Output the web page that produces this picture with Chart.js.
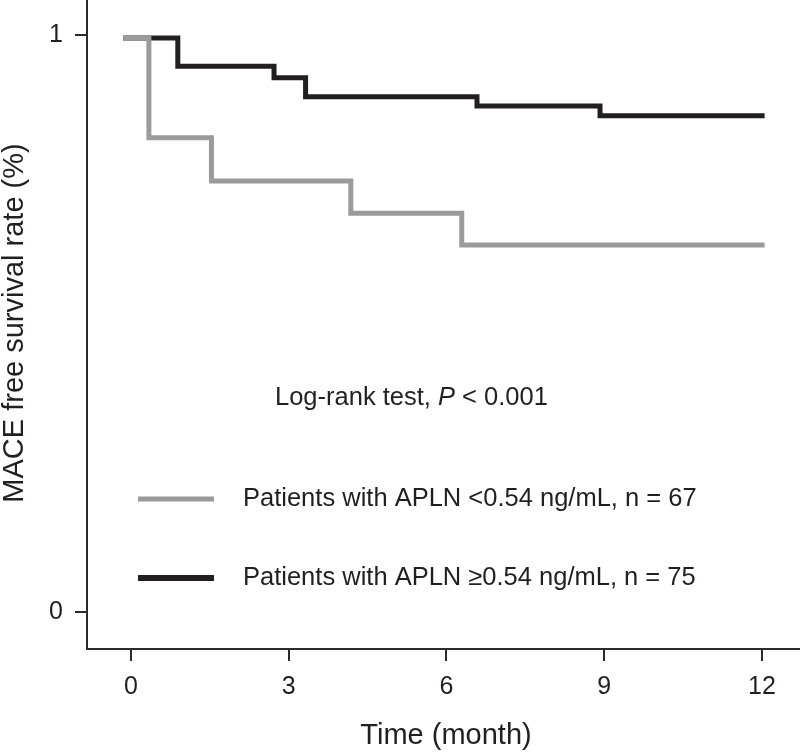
<!DOCTYPE html>
<html>
<head>
<meta charset="utf-8">
<script src="https://cdn.jsdelivr.net/npm/chart.js@4.4.1/dist/chart.umd.min.js"></script>
<style>
  html, body { margin: 0; padding: 0; background: #fff; }
  #wrap { width: 800px; height: 754px; }
</style>
</head>
<body>
<div id="wrap"><canvas id="km" width="800" height="754"></canvas></div>
<script>
// Kaplan-Meier steps (time in months, survival as fraction)
const lowTimes  = [-0.15, 0.34, 1.53, 4.18, 6.29, 12.05];
const lowSurv   = [0.995, 0.822, 0.747, 0.691, 0.636, 0.636];
const highTimes = [-0.15, 0.89, 2.72, 3.32, 6.58, 8.92, 12.05];
const highSurv  = [0.995, 0.946, 0.926, 0.893, 0.877, 0.860, 0.860];

const seriesLabels = [
  'Patients with APLN <0.54 ng/mL, n = 67',
  'Patients with APLN \u22650.54 ng/mL, n = 75'
];
const xTickValues = [0, 3, 6, 9, 12];
const yTickValues = [0, 1];

const FONT = '"Liberation Sans", Arial, Helvetica, sans-serif';
const INK = '#231f20';
const GRAY = '#9b9b9d';

function toPoints(xs, ys) {
  return xs.map((x, i) => ({ x: x, y: ys[i] }));
}

// texts that sit inside / around the plot
const annotate = {
  id: 'annotate',
  afterDraw(chart) {
    const ctx = chart.ctx;
    ctx.save();
    ctx.fillStyle = INK;
    ctx.textBaseline = 'alphabetic';

    // log-rank text, with italic P
    ctx.textAlign = 'left';
    let x = 275;
    ctx.font = '25.5px ' + FONT;
    let part = 'Log-rank test, ';
    ctx.fillText(part, x, 405);
    x += ctx.measureText(part).width;
    ctx.font = 'italic 25.5px ' + FONT;
    ctx.fillText('P', x, 405);
    x += ctx.measureText('P').width;
    ctx.font = '25.5px ' + FONT;
    ctx.fillText(' < 0.001', x, 405);

    // legend
    const rows = [{ y: 499, text: 506, w: 5 }, { y: 578, text: 585, w: 6 }];
    chart.data.datasets.forEach((ds, i) => {
      const r = rows[i];
      ctx.strokeStyle = ds.borderColor;
      ctx.lineWidth = r.w;
      ctx.lineCap = 'butt';
      ctx.beginPath();
      ctx.moveTo(138, r.y);
      ctx.lineTo(214, r.y);
      ctx.stroke();
      ctx.font = '25.5px ' + FONT;
      ctx.fillText(ds.label, 243, r.text);
    });

    // axis titles
    ctx.font = '29px ' + FONT;
    ctx.textAlign = 'center';
    ctx.fillText('Time (month)', 446, 744);
    ctx.translate(23, 323);
    ctx.rotate(-Math.PI / 2);
    ctx.fillText('MACE free survival rate (%)', 0, 0);
    ctx.restore();
  }
};

new Chart(document.getElementById('km'), {
  type: 'line',
  data: {
    datasets: [
      {
        label: seriesLabels[0],
        data: toPoints(lowTimes, lowSurv),
        borderColor: GRAY,
        borderWidth: 5,
        stepped: 'before',
        pointRadius: 0,
        fill: false,
        borderCapStyle: 'butt',
        borderJoinStyle: 'miter'
      },
      {
        label: seriesLabels[1],
        data: toPoints(highTimes, highSurv),
        borderColor: INK,
        borderWidth: 5,
        stepped: 'before',
        pointRadius: 0,
        fill: false,
        borderCapStyle: 'butt',
        borderJoinStyle: 'miter'
      }
    ]
  },
  options: {
    responsive: false,
    devicePixelRatio: 1,
    animation: false,
    layout: { padding: 0 },
    plugins: {
      legend: { display: false },
      tooltip: { enabled: false }
    },
    scales: {
      x: {
        type: 'linear',
        min: -0.837,
        max: 12.723,
        afterBuildTicks: (s) => { s.ticks = xTickValues.map(v => ({ value: v })); },
        afterFit: (s) => { s.height = 105; s.paddingLeft = 0; s.paddingRight = 0; },
        grid: { drawOnChartArea: false, drawTicks: true, tickLength: 12, color: '#2b2b2b', lineWidth: 2 },
        border: { display: true, color: '#2b2b2b', width: 2 },
        ticks: { color: INK, padding: 11, font: { family: FONT, size: 25 }, maxRotation: 0 }
      },
      y: {
        type: 'linear',
        min: -0.0641,
        max: 1.0607,
        afterBuildTicks: (s) => { s.ticks = yTickValues.map(v => ({ value: v })); },
        afterFit: (s) => { s.width = 87; s.paddingTop = 0; s.paddingBottom = 0; },
        grid: { drawOnChartArea: false, drawTicks: true, tickLength: 12, color: '#2b2b2b', lineWidth: 2 },
        border: { display: true, color: '#2b2b2b', width: 2 },
        ticks: { color: INK, padding: 12, font: { family: FONT, size: 25 } }
      }
    }
  },
  plugins: [annotate]
});
</script>
</body>
</html>
